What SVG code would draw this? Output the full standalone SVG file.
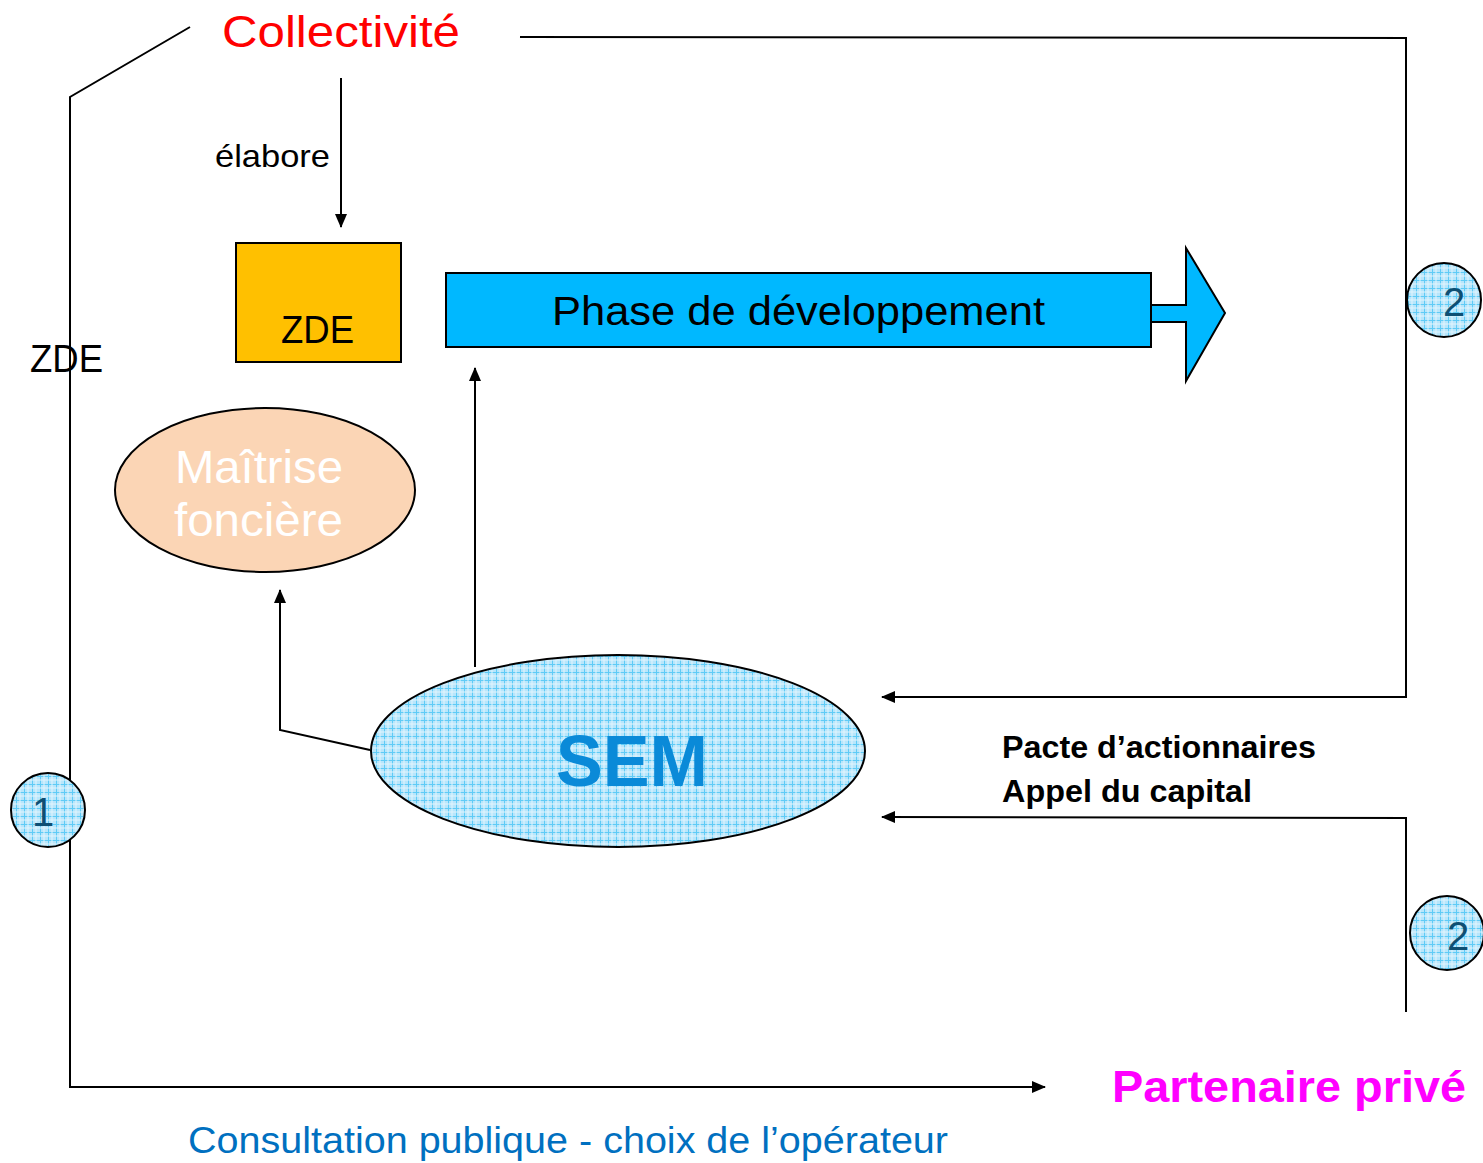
<svg xmlns="http://www.w3.org/2000/svg" width="1483" height="1163" viewBox="0 0 1483 1163">
<defs>
<pattern id="grid" width="8" height="8" patternUnits="userSpaceOnUse">
<rect width="8" height="8" fill="#B8E6FB"/>
<path d="M0 0.5H8M0.5 0V8" stroke="#5FCBF6" stroke-width="1"/>
<path d="M4 0V8M0 4H8" stroke="#E2F5FD" stroke-width="1"/>
</pattern>
<marker id="arr" markerWidth="14" markerHeight="12" refX="13" refY="6" orient="auto" markerUnits="userSpaceOnUse">
<path d="M0 0L14 6L0 12Z" fill="#000"/>
</marker>
<style>
.ln{fill:none;stroke:#000;stroke-width:2}
.t{font-family:"Liberation Sans","Open Sans",sans-serif}
.nm{font-family:"Liberation Sans",sans-serif;font-size:40px;fill:#0E4F73;text-anchor:middle}
.circ{fill:url(#grid);stroke:#000;stroke-width:2}
</style>
</defs>
<rect width="1483" height="1163" fill="#fff"/>
<g id="connectors">
<polyline class="ln" points="190,27 70,97 70,1087 1045,1087" marker-end="url(#arr)"/>
<polyline class="ln" points="520,37 1406,38 1406,697 882,697" marker-end="url(#arr)"/>
<polyline class="ln" points="1406,1012 1406,818 882,817" marker-end="url(#arr)"/>
<line class="ln" x1="341" y1="78" x2="341" y2="227" marker-end="url(#arr)"/>
<line class="ln" x1="475" y1="667" x2="475" y2="368" marker-end="url(#arr)"/>
<polyline class="ln" points="370,750 280,730 280,590" marker-end="url(#arr)"/>
</g>
<g id="collectivite"><text class="t" x="222" y="47" font-size="44" fill="#FF0000" textLength="238" lengthAdjust="spacingAndGlyphs">Collectivité</text></g>
<g id="elabore"><text class="t" x="215" y="167" font-size="32" fill="#000" textLength="115" lengthAdjust="spacingAndGlyphs">élabore</text></g>
<g id="zde-box">
<rect x="236" y="243" width="165" height="119" fill="#FFC000" stroke="#000" stroke-width="2"/>
<text class="t" x="281" y="343" font-size="38" fill="#000" textLength="73" lengthAdjust="spacingAndGlyphs">ZDE</text>
</g>
<g id="zde-label"><text class="t" x="30" y="372" font-size="38" fill="#000" textLength="73" lengthAdjust="spacingAndGlyphs">ZDE</text></g>
<g id="phase">
<rect x="446" y="273" width="705" height="74" fill="#00B8FF" stroke="#000" stroke-width="2"/>
<polygon points="1151,305 1186,305 1186,248 1225,313 1186,381 1186,322 1151,322" fill="#00B8FF" stroke="#000" stroke-width="2"/>
<text class="t" x="552" y="325" font-size="40" fill="#000" textLength="493" lengthAdjust="spacingAndGlyphs">Phase de développement</text>
</g>
<g id="maitrise">
<ellipse cx="265" cy="490" rx="150" ry="82" fill="#FBD5B5" stroke="#000" stroke-width="2"/>
<text class="t" x="175" y="483" font-size="46" fill="#fff" textLength="168" lengthAdjust="spacingAndGlyphs">Maîtrise</text>
<text class="t" x="174" y="536" font-size="46" fill="#fff" textLength="169" lengthAdjust="spacingAndGlyphs">foncière</text>
</g>
<g id="sem">
<ellipse cx="618" cy="751" rx="247" ry="96" fill="url(#grid)" stroke="#000" stroke-width="2"/>
<text class="t" x="556" y="786" font-size="72" font-weight="bold" fill="#0A8AD8" textLength="152" lengthAdjust="spacingAndGlyphs">SEM</text>
</g>
<g id="c1"><circle class="circ" cx="48" cy="810" r="37"/><text class="nm" x="43" y="826">1</text></g>
<g id="c2a"><circle class="circ" cx="1444" cy="300" r="37"/><text class="nm" x="1454" y="316">2</text></g>
<g id="c2b"><circle class="circ" cx="1447" cy="933" r="37"/><text class="nm" x="1458" y="950">2</text></g>
<g id="pacte">
<text class="t" x="1002" y="758" font-size="32" font-weight="bold" fill="#000" textLength="314" lengthAdjust="spacingAndGlyphs">Pacte d’actionnaires</text>
<text class="t" x="1002" y="802" font-size="32" font-weight="bold" fill="#000" textLength="250" lengthAdjust="spacingAndGlyphs">Appel du capital</text>
</g>
<g id="partenaire"><text class="t" x="1112" y="1102" font-size="44" font-weight="bold" fill="#FF00FF" textLength="354" lengthAdjust="spacingAndGlyphs">Partenaire privé</text></g>
<g id="consultation"><text class="t" x="188" y="1153" font-size="36" fill="#0070C0" textLength="760" lengthAdjust="spacingAndGlyphs">Consultation publique - choix de l’opérateur</text></g>
</svg>
